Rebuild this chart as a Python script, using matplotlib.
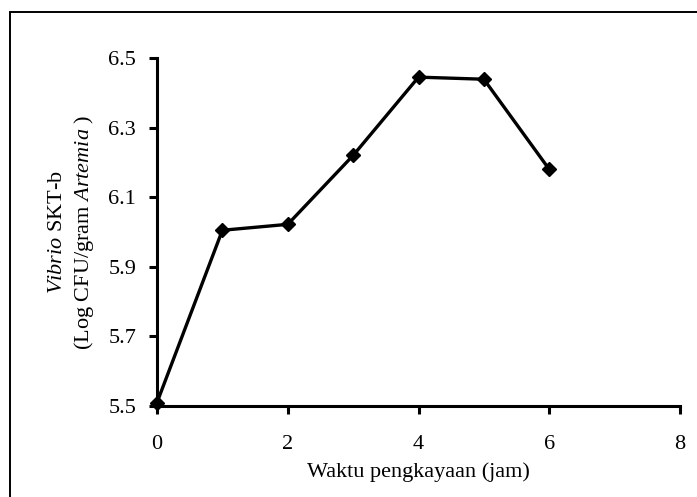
import matplotlib
matplotlib.use("Agg")
import matplotlib.pyplot as plt
from matplotlib.patches import Rectangle

hours = [0, 1, 2, 3, 4, 5, 6]
log_cfu = [5.51, 6.005, 6.022, 6.22, 6.445, 6.439, 6.18]
xticks = [0, 2, 4, 6, 8]
yticks = [5.5, 5.7, 5.9, 6.1, 6.3, 6.5]

plt.rcParams['font.family'] = ['Liberation Serif', 'DejaVu Serif']
plt.rcParams['mathtext.fontset'] = 'custom'
plt.rcParams['mathtext.rm'] = 'Liberation Serif'
plt.rcParams['mathtext.it'] = 'Liberation Serif:italic'

fig = plt.figure(figsize=(6.97, 4.97), dpi=100)
ax = fig.add_axes([157/697, 1-406/497, (680-157)/697, (406-58)/497])

ax.plot(hours, log_cfu, color='black', lw=2.4, marker='D', markersize=7.5,
        clip_on=False, zorder=3)

ax.set_xlim(0, 8)
ax.set_ylim(5.5, 6.5)
ax.set_xticks(xticks)
ax.set_yticks(yticks)
ax.set_yticklabels([f"{v:.1f}" for v in yticks])
for s in ['top', 'right']:
    ax.spines[s].set_visible(False)
for s in ['left', 'bottom']:
    ax.spines[s].set_linewidth(2.2)
ax.tick_params(axis='both', direction='out', length=6, width=2.2, labelsize=16)
ax.tick_params(axis='x', pad=15)
ax.tick_params(axis='y', pad=9)

ax.set_xlabel('Waktu pengkayaan (jam)', fontsize=16, labelpad=6)
ax.set_ylabel(r'$\it{Vibrio}$ SKT-b' + '\n' + r'(Log CFU/gram $\it{Artemia}$ )',
              fontsize=16, labelpad=9, linespacing=1.3)

fig.patches.append(Rectangle((10/697, -0.2), 1.5, 1.2 - 12/497,
                             transform=fig.transFigure, fill=False,
                             edgecolor='black', lw=1.4))

fig.savefig('out.png', dpi=100)
